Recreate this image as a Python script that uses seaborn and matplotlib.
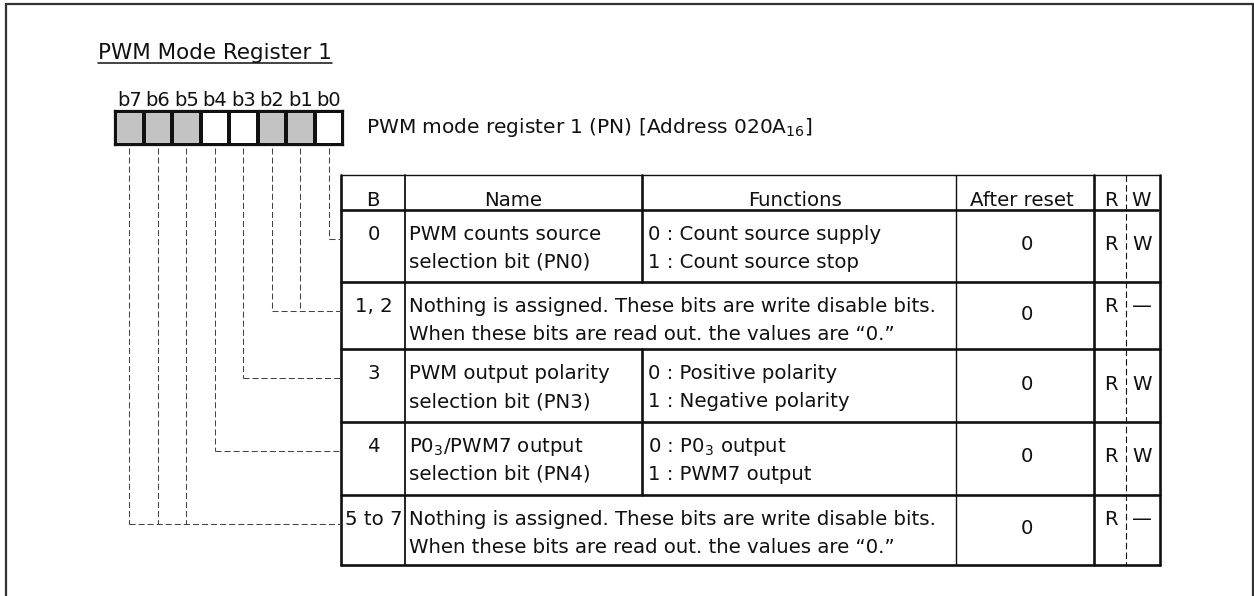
import numpy as np
import matplotlib
matplotlib.use('Agg')
import matplotlib.pyplot as plt
import seaborn as sns
from matplotlib.colors import ListedColormap

# register bits, b7 .. b0 (1 = grey / not used cell)
bit_labels = ['b7', 'b6', 'b5', 'b4', 'b3', 'b2', 'b1', 'b0']
bit_reserved = [1, 1, 1, 0, 0, 1, 1, 0]

# table contents
header = ['B', 'Name', 'Functions', 'After reset', 'R', 'W']
row_bits = ['0', '1, 2', '3', '4', '5 to 7']
row_bit_index = [[0], [1, 2], [3], [4], [5, 6, 7]]
row_names = [
    ['PWM counts source', 'selection bit (PN0)'],
    None,
    ['PWM output polarity', 'selection bit (PN3)'],
    [r'P0$_3$/PWM7 output', 'selection bit (PN4)'],
    None,
]
row_functions = [
    ['0 : Count source supply', '1 : Count source stop'],
    None,
    ['0 : Positive polarity', '1 : Negative polarity'],
    [r'0 : P0$_3$ output', '1 : PWM7 output'],
    None,
]
row_merged = [
    None,
    ['Nothing is assigned. These bits are write disable bits.',
     'When these bits are read out. the values are \u201c0.\u201d'],
    None,
    None,
    ['Nothing is assigned. These bits are write disable bits.',
     'When these bits are read out. the values are \u201c0.\u201d'],
]
after_reset = ['0', '0', '0', '0', '0']
read_access = ['R', 'R', 'R', 'R', 'R']
write_access = ['W', '\u2014', 'W', 'W', '\u2014']

title = 'PWM Mode Register 1'
reg_text = r'PWM mode register 1 (PN) [Address 020A$_{16}$]'

sns.set_theme(style='white')
plt.rcParams['font.family'] = ['DejaVu Sans']
plt.rcParams['mathtext.default'] = 'regular'

W, H = 1254, 596
fig = plt.figure(figsize=(W / 100, H / 100), dpi=100)
ax = fig.add_axes([0, 0, 1, 1])
ax.set_xlim(0, W)
ax.set_ylim(H, 0)
ax.axis('off')

FS = 14.2
ink = '#111111'
dash = (0, (5.8, 2.9))

# outer frame (open at the bottom)
ax.plot([6, 6, 1253, 1253], [H, 4, 4, H], color='#333333', lw=1.6,
        solid_joinstyle='miter')

# title, underlined
t = ax.text(98, 59, title, fontsize=15.5, color=ink, va='baseline')
fig.canvas.draw()
bb = t.get_window_extent().transformed(ax.transData.inverted())
ax.plot([bb.x0, bb.x1], [63, 63], color=ink, lw=1.1)

# register cells drawn as a one-row heatmap
box_l, box_r, box_t, box_b = 115, 343, 111, 145
ax_b = fig.add_axes([box_l / W, 1 - box_b / H, (box_r - box_l) / W, (box_b - box_t) / H])
sns.heatmap(np.array([bit_reserved]), cmap=ListedColormap(['white', '#c3c3c3']),
            vmin=0, vmax=1, cbar=False, linewidths=1.6, linecolor=ink,
            xticklabels=bit_labels, yticklabels=False, ax=ax_b)
for sp in ax_b.spines.values():
    sp.set_visible(True)
    sp.set_linewidth(1.6)
    sp.set_color(ink)
ax_b.xaxis.tick_top()
ax_b.tick_params(axis='x', length=0, pad=1.0, labelsize=14, labelcolor=ink, rotation=0)

ax.text(366, 133, reg_text, fontsize=14.5, color=ink, va='baseline')

# table grid
cols = [341, 405, 642, 956, 1094, 1126, 1160]
rows = [175, 210, 282, 349, 422, 495, 565]
thick, thin = 1.9, 1.0

ax.plot([cols[0], cols[-1]], [rows[0], rows[0]], color=ink, lw=thin)
ax.plot([cols[0], cols[-1] - 2], [rows[1], rows[1]], color=ink, lw=thick)
for y in rows[2:]:
    ax.plot([cols[0], cols[-1]], [y, y], color=ink, lw=thick)
ax.plot([cols[0], cols[0]], [rows[0], rows[-1]], color=ink, lw=thick)
ax.plot([cols[1], cols[1]], [rows[0], rows[-1]], color=ink, lw=1.3)
ax.plot([cols[3], cols[3]], [rows[0], rows[-1]], color=ink, lw=thin)
ax.plot([cols[4], cols[4]], [rows[0], rows[-1]], color=ink, lw=thick)
ax.plot([cols[6], cols[6]], [rows[0], rows[-1]], color=ink, lw=thick)
ax.plot([cols[5], cols[5]], [rows[0], rows[-1]], color=ink, lw=0.8, ls=dash)
# name / functions divider only where the row is not merged
ax.plot([cols[2], cols[2]], [rows[0], rows[1]], color=ink, lw=thick)
for i, merged in enumerate(row_merged):
    if merged is None:
        ax.plot([cols[2], cols[2]], [rows[i + 1], rows[i + 2]], color=ink, lw=thick)

# header
hy = 206
ax.text(373, hy, header[0], fontsize=FS, ha='center', va='baseline', color=ink)
ax.text(513, hy, header[1], fontsize=FS, ha='center', va='baseline', color=ink)
ax.text(795, hy, header[2], fontsize=FS, ha='center', va='baseline', color=ink)
ax.text(1022, hy, header[3], fontsize=FS, ha='center', va='baseline', color=ink)
ax.text(1111, hy, header[4], fontsize=FS, ha='center', va='baseline', color=ink)
ax.text(1141, hy, header[5], fontsize=FS, ha='center', va='baseline', color=ink)

# body rows
for i in range(len(row_bits)):
    top, bot = rows[i + 1], rows[i + 2]
    l1, l2 = top + 30, top + 58
    mid = (top + bot) / 2 + 4
    ax.text(374, l1, row_bits[i], fontsize=FS, ha='center', va='baseline', color=ink)
    if row_merged[i] is not None:
        ax.text(409, l1, row_merged[i][0], fontsize=FS, va='baseline', color=ink)
        ax.text(409, l2, row_merged[i][1], fontsize=FS, va='baseline', color=ink)
    else:
        ax.text(409, l1, row_names[i][0], fontsize=FS, va='baseline', color=ink)
        ax.text(409, l2, row_names[i][1], fontsize=FS, va='baseline', color=ink)
        ax.text(648, l1, row_functions[i][0], fontsize=FS, va='baseline', color=ink)
        ax.text(648, l2, row_functions[i][1], fontsize=FS, va='baseline', color=ink)
    ax.text(1027, mid, after_reset[i], fontsize=FS, ha='center', va='baseline', color=ink)
    ry = mid if write_access[i] == 'W' else l1
    ax.text(1111, ry, read_access[i], fontsize=FS, ha='center', va='baseline', color=ink)
    ax.text(1142, ry, write_access[i], fontsize=FS, ha='center', va='baseline', color=ink)

    # dashed leader lines from the register cells to the row
    cy = top + 29
    xs = [box_l + (7 - b + 0.5) * (box_r - box_l) / 8 for b in row_bit_index[i]]
    for x in xs:
        ax.plot([x, x], [box_b + 3, cy], color='#444444', lw=0.75, ls=dash)
    ax.plot([min(xs), cols[0]], [cy, cy], color='#444444', lw=0.75, ls=dash)

fig.savefig('out.png', dpi=100)
